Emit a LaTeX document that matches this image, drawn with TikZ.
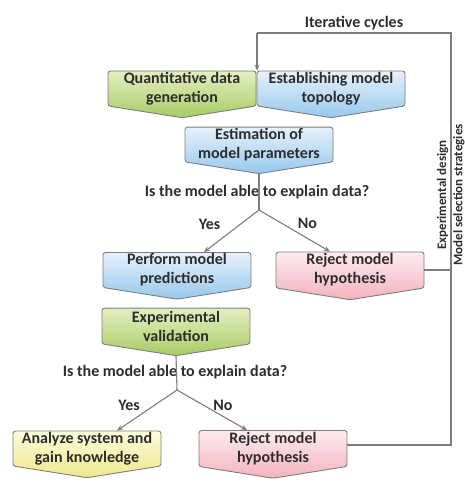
\documentclass[tikz,border=0pt]{standalone}
\usepackage{fontspec}
\setmainfont{Carlito}
\usetikzlibrary{arrows.meta,shapes.symbols,calc,positioning}
\definecolor{LineGray}{RGB}{125,125,125}
\definecolor{TextGray}{RGB}{45,45,45}
\definecolor{GreenTop}{RGB}{228,238,192}
\definecolor{GreenBot}{RGB}{168,204,102}
\definecolor{BlueTop}{RGB}{230,241,251}
\definecolor{BlueBot}{RGB}{150,200,236}
\definecolor{PinkTop}{RGB}{253,236,240}
\definecolor{PinkBot}{RGB}{242,178,190}
\definecolor{YellowTop}{RGB}{253,251,220}
\definecolor{YellowBot}{RGB}{238,232,140}

\tikzset{
  flowbox/.style={signal, signal to=south, signal from=nowhere,
    signal pointer angle=162, draw=LineGray, line width=0.9pt,
    rounded corners=2.5pt, minimum width=148pt, minimum height=43pt,
    align=center, inner sep=1pt, text=TextGray,
    font=\fontsize{16}{19}\selectfont\bfseries},
  greenbox/.style={flowbox, top color=GreenTop, bottom color=GreenBot},
  bluebox/.style={flowbox, top color=BlueTop, bottom color=BlueBot},
  pinkbox/.style={flowbox, top color=PinkTop, bottom color=PinkBot},
  yellowbox/.style={flowbox, top color=YellowTop, bottom color=YellowBot},
  plaintext/.style={text=TextGray, font=\fontsize{16}{19}\selectfont\bfseries, inner sep=1pt},
  sidetext/.style={plaintext, font=\fontsize{13}{16}\selectfont\bfseries, inner sep=0.5pt},
  link/.style={LineGray, line width=1.1pt},
  tip/.style={link, -{Stealth[length=6pt,width=5pt]}}
}

\begin{document}
\begin{tikzpicture}[x=1pt,y=-1pt]
    \useasboundingbox (0,0) rectangle (465,482);
    % top row
    \node[greenbox] (qdata) at (182,88.5) {Quantitative data\\generation};
    \node[bluebox] (topo) at (331,88.5) {Establishing model\\topology};
    \node[bluebox] (estim) at (259,144.5) {Estimation of\\model parameters};
    \node[plaintext] (qone) at (257,192) {Is the model able to explain data?};
    \coordinate (forkone) at (259,210);
    % second stage
    \node[bluebox] (perf) at (177,270) {Perform model\\predictions};
    \node[pinkbox] (rejone) at (350,270) {Reject model\\hypothesis};
    \node[greenbox] (expval) at (176,326) {Experimental\\validation};
    \node[plaintext] (qtwo) at (175,372) {Is the model able to explain data?};
    \coordinate (forktwo) at (177,390);
    % last stage
    \node[yellowbox] (analyze) at (87,448.5) {Analyze system and\\gain knowledge};
    \node[pinkbox] (rejtwo) at (273,448.5) {Reject model\\hypothesis};
    % decisions
    \draw[link] (estim.south) -- (forkone);
    \draw[tip] (forkone) -- ($(perf.north)+(27,0)$) node[midway,xshift=-22pt,yshift=7pt,plaintext] (yesone) {Yes};
    \draw[tip] (forkone) -- ($(rejone.north)+(-20,0)$) node[midway,xshift=13pt,yshift=7pt,plaintext] (noone) {No};
    \draw[link] (expval.south) -- (forktwo);
    \draw[tip] (forktwo) -- ($(analyze.north)+(30,0)$) node[midway,xshift=-18pt,yshift=5pt,plaintext] (yestwo) {Yes};
    \draw[tip] (forktwo) -- ($(rejtwo.north)+(-26,0)$) node[midway,xshift=11pt,yshift=5pt,plaintext] (notwo) {No};
    % feedback loop
    \coordinate (loopbot) at (451,445);
    \coordinate (looptop) at (451,33);
    \coordinate (loopin) at (257,33);
    \draw[link] (rejtwo.east |- loopbot) -- (loopbot) -- (looptop) -- (loopin);
    \draw[tip] (loopin) -- (loopin |- qdata.north);
    \draw[link] (rejone.east) -- (rejone.east -| looptop);
    \node[plaintext, above=2pt] (iter) at ($(loopin)!0.5!(looptop)$) {Iterative cycles};
    \node[sidetext, rotate=90, anchor=south] (expdes) at (449,195) {Experimental design};
    \node[sidetext, rotate=90, anchor=north] (modsel) at (452.5,195) {Model selection strategies};
\end{tikzpicture}
\end{document}
